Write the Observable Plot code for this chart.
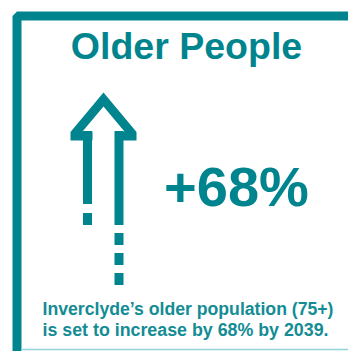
<!DOCTYPE html>
<html><head><meta charset="utf-8">
<script src="https://cdn.jsdelivr.net/npm/d3@7"></script>
<script src="https://cdn.jsdelivr.net/npm/@observablehq/plot@0.6"></script>
<style>html,body{margin:0;padding:0;background:#fff}#chart svg{display:block}</style>
</head><body><div id="chart"></div>
<script>
// ---- content ----
const titleText = ["Older People"];
const headlineText = ["+68%"];
const captionLines = ["Inverclyde\u2019s older population (75+)", "is set to increase by 68% by 2039."];

// ---- decorative shapes (drawing units = pixels of a 348x351 canvas) ----
const frameX = [16.5, 16.5, 348];
const frameY = [351, 15.5, 15.5];
const headX = [83, 70, 70, 103, 136, 136, 114.5, 114.5, 124, 103, 82, 92, 92];
const headY = [140, 140, 131.5, 92, 131.5, 140, 140, 131, 131, 106, 131, 131, 140];
const shaftLeft = [83, 83];
const shaftRight = [92, 92];
const shaftTop = [131, 213];
const shaftBottom = [204, 225];
const shaft2Left = [114.5, 114.5, 114.5, 114.5];
const shaft2Right = [123.5, 123.5, 123.5, 123.5];
const shaft2Top = [131, 233, 253, 273];
const shaft2Bottom = [225, 245, 265, 285];

const teal = "#00858f";
const zip = (xs, ys) => xs.map((x, i) => ({x, y: ys[i]}));
const segs = (l, r, t, b) => l.map((x1, i) => ({x1, x2: r[i], y1: t[i], y2: b[i]}));

const frame = zip(frameX, frameY);
const head = zip(headX, headY);
const shafts = [...segs(shaftLeft, shaftRight, shaftTop, shaftBottom), ...segs(shaft2Left, shaft2Right, shaft2Top, shaft2Bottom)];

const plot = Plot.plot({
  width: 348, height: 351, margin: 0,
  style: {background: "#fff", fontFamily: "'Liberation Sans', Arial, sans-serif"},
  x: {domain: [0, 348], range: [0, 348], axis: null},
  y: {domain: [0, 351], range: [0, 351], axis: null},
  marks: [
    Plot.line(frame, {x: "x", y: "y", stroke: teal, strokeWidth: 9, strokeLinejoin: "miter", strokeLinecap: "butt"}),
    Plot.ruleY([349], {x1: 21, x2: 348, stroke: "#94d4d8", strokeWidth: 1.5}),
    Plot.line(head, {x: "x", y: "y", fill: teal, stroke: "none"}),
    Plot.rect(shafts, {x1: "x1", x2: "x2", y1: "y1", y2: "y2", fill: teal}),
    Plot.text(titleText, {x: 186, y: 58.5, text: d => d, fill: teal, fontSize: 37.5, fontWeight: "bold", textAnchor: "middle", lineAnchor: "bottom"}),
    Plot.text(headlineText, {x: 236, y: 205, text: d => d, fill: teal, fontSize: 56, fontWeight: "bold", textAnchor: "middle", lineAnchor: "bottom"}),
    Plot.text(captionLines, {x: 42, y: (d, i) => [314, 335.5][i], text: d => d, fill: "#138c95", fontSize: 18, fontWeight: "bold", textAnchor: "start", lineAnchor: "bottom"})
  ]
});
document.getElementById("chart").appendChild(plot);
// compress the caption lines to the narrow width seen in the reference
const widths = [291, 286];
d3.select(plot).selectAll("text").each(function() {
  const i = captionLines.indexOf(this.textContent);
  if (i >= 0) d3.select(this).attr("textLength", widths[i]).attr("lengthAdjust", "spacingAndGlyphs");
});
</script>
</body></html>
